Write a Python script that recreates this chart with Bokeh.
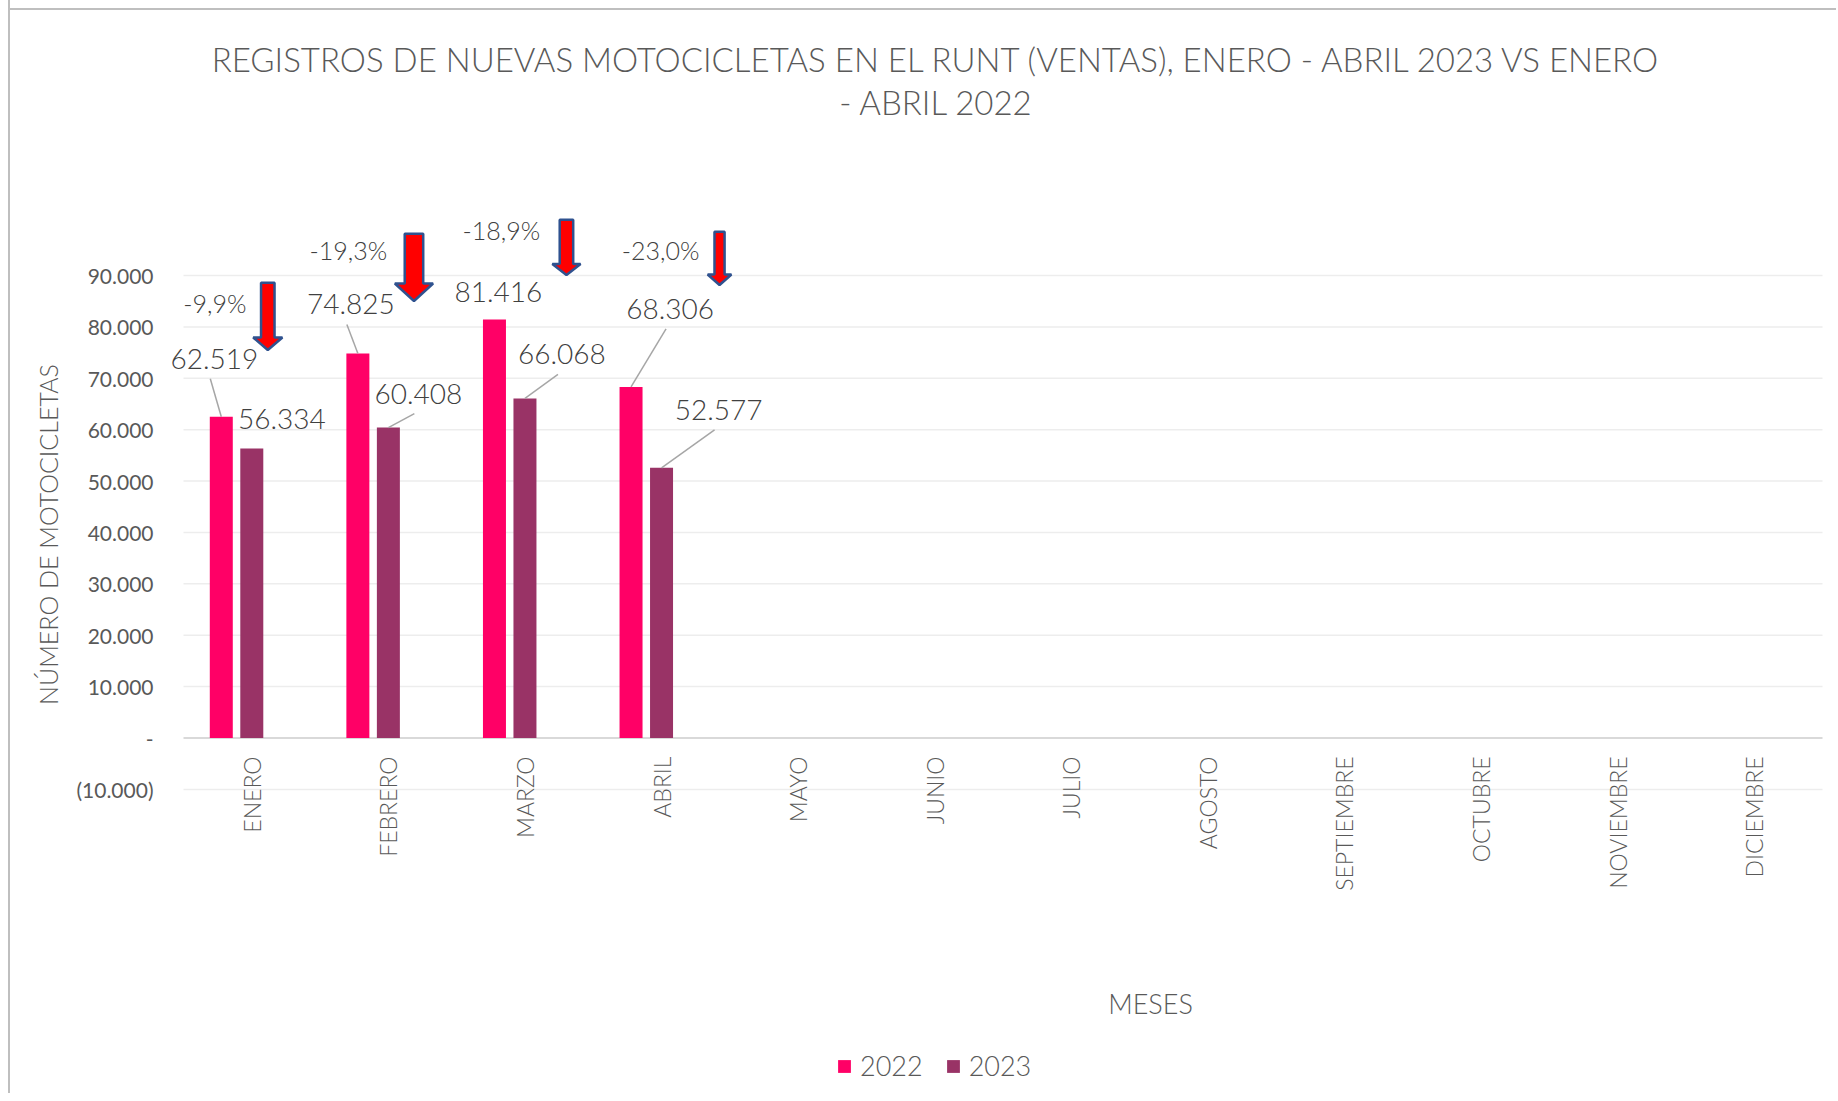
import math
from bokeh.plotting import figure
from bokeh.models import (Range1d, FixedTicker, Label, LabelSet, ColumnDataSource,
                          Legend, LegendItem)
from bokeh.core.properties import value
from bokeh.embed import file_html
from bokeh.resources import INLINE

# ---------------- data ----------------
months = ["ENERO", "FEBRERO", "MARZO", "ABRIL", "MAYO", "JUNIO", "JULIO",
          "AGOSTO", "SEPTIEMBRE", "OCTUBRE", "NOVIEMBRE", "DICIEMBRE"]
series_names = ["2022", "2023"]
sales_2022 = [62519, 74825, 81416, 68306]
sales_2023 = [56334, 60408, 66068, 52577]
y_ticks = [-10000, 0, 10000, 20000, 30000, 40000, 50000, 60000, 70000, 80000, 90000]
title_lines = ["REGISTROS DE NUEVAS MOTOCICLETAS EN EL RUNT (VENTAS), ENERO - ABRIL 2023 VS ENERO",
               "- ABRIL 2022"]
x_title = "MESES"
y_title = "NÚMERO DE MOTOCICLETAS"

# ---------------- layout (page pixels) ----------------
OX, OY = 10, -24                # canvas origin on the page
W, H = 1828, 1117
FL, FR, FT, FB = 163, 1838, -24, 1092   # plot frame on the page
GL, GR = 183, 1822                      # extent of the gridlines / category band
Y_ZERO_PX, PX_PER_10K = 737.5, 51.39
PXY = PX_PER_10K / 10000
PXX = (GR - GL) / len(months)
Y0 = -(FB - Y_ZERO_PX) / PXY
Y1 = (Y_ZERO_PX - FT) / PXY
X0 = -(GL - FL) / PXX
X1 = (FR - GL) / PXX


def dx(px):
    return (px - GL) / PXX


def dy(py):
    return (Y_ZERO_PX - py) / PXY


def page_x(x):
    return GL + x * PXX


def page_y(y):
    return Y_ZERO_PX - y * PXY


def thousands(v):
    return f"{v:,}".replace(",", ".")


def tick_label(t):
    if t == 0:
        return "-"
    if t < 0:
        return "(" + thousands(-t) + ")"
    return thousands(t)


C22, C23 = "#FF0066", "#993366"
TXT = "#595959"
LBL = "#404040"
FONT = "Lato"
LIGHT = "Lato Light"

BAR_W = 23 / PXX
OFFS = [-30.5 / PXX, 0.0]

p = figure(width=W, height=H, x_range=Range1d(X0, X1), y_range=Range1d(Y0, Y1),
           output_backend="svg", toolbar_location=None, x_axis_location=None, title=None,
           min_border_left=FL - OX, min_border_right=W - (FR - OX),
           min_border_top=FT - OY, min_border_bottom=(OY + H) - FB)
p.outline_line_color = None
p.background_fill_alpha = 0
p.border_fill_alpha = 0
p.styles = {"margin-left": "8px", "margin-top": f"{OY}px",
            "border-left": "2px solid #bfbfbf",
            "background": f"linear-gradient(#bfbfbf, #bfbfbf) 0px {8 - OY}px / 100% 2px no-repeat, #ffffff"}

# y axis
p.yaxis.ticker = FixedTicker(ticks=y_ticks)
p.yaxis.major_label_overrides = {t: tick_label(t) for t in y_ticks}
p.yaxis.axis_line_color = None
p.yaxis.major_tick_line_color = None
p.yaxis.minor_tick_line_color = None
p.yaxis.major_tick_out = 0
p.yaxis.major_label_standoff = 10
p.yaxis.major_label_text_font = FONT
p.yaxis.major_label_text_font_size = "21px"
p.yaxis.major_label_text_color = TXT
p.yaxis.axis_label = y_title
p.yaxis.axis_label_text_font = LIGHT
p.yaxis.axis_label_text_font_size = "25px"
p.yaxis.axis_label_text_font_style = "normal"
p.yaxis.axis_label_text_color = TXT
p.yaxis.axis_label_standoff = 10
p.xgrid.visible = False
p.ygrid.visible = False

# gridlines across the category band, zero line darker
grid_vals = [t for t in y_ticks if t != 0]
p.segment(x0=[0] * len(grid_vals), x1=[len(months)] * len(grid_vals), y0=grid_vals, y1=grid_vals,
          line_color="#ededed", line_width=1.5)
p.segment(x0=[0], x1=[len(months)], y0=[0], y1=[0], line_color="#d9d9d9", line_width=2)

# bars
renderers = []
for k, (vals, col) in enumerate([(sales_2022, C22), (sales_2023, C23)]):
    src = ColumnDataSource(dict(x=[i + 0.5 + OFFS[k] for i in range(len(vals))], top=vals))
    r = p.vbar(x="x", top="top", bottom=0, width=BAR_W, source=src,
               fill_color=col, line_color=None)
    renderers.append(r)

# data labels with leader lines
LABEL_OFF = [[(-7, -58), (-7, -49), (4, -28), (39, -78)],
             [(30, -29), (30, -34), (37, -44), (57, -58)]]
LEADER = [[True, True, False, True], [False, True, True, True]]
for k, vals in enumerate([sales_2022, sales_2023]):
    lx, ly, lt = [], [], []
    sx0, sy0, sx1, sy1 = [], [], [], []
    for i, v in enumerate(vals):
        bx = page_x(i + 0.5 + OFFS[k])
        by = page_y(v)
        ox, oy = LABEL_OFF[k][i]
        cx, cy = bx + ox, by + oy
        lx.append(dx(cx)); ly.append(dy(cy)); lt.append(thousands(v))
        if LEADER[k][i]:
            sx0.append(dx(cx - 4)); sy0.append(dy(cy + 20))
            sx1.append(dx(bx)); sy1.append(v)
    p.segment(x0=sx0, y0=sy0, x1=sx1, y1=sy1, line_color="#a6a6a6", line_width=1.5)
    p.text(x=lx, y=ly, text=lt, text_font=value(LIGHT), text_font_size="28px",
           text_color=LBL, text_align="center", text_baseline="middle")

# percent change labels and arrows
PCT_POS = [(-37, 302), (-40, 249), (-23.5, 229), (-1, 249)]
ARROWS = [(16, 281, 337, 352, 16, 33), (25.6, 232, 283, 303, 21, 42),
          (41.5, 218, 263.5, 277, 16, 32), (58, 230, 274, 287, 12.6, 27.5)]
px_, py_, pt_ = [], [], []
axs, ays = [], []
for i, (a, b) in enumerate(zip(sales_2022, sales_2023)):
    cc = page_x(i + 0.5)
    pct = (b - a) / a * 100
    px_.append(dx(cc + PCT_POS[i][0])); py_.append(dy(PCT_POS[i][1]))
    pt_.append(f"{pct:.1f}%".replace(".", ","))
    ox, top, hs, tip, sw, hw = ARROWS[i]
    cx = cc + ox
    lw = 2.5
    top += lw / 2; tip -= lw; sw -= lw; hw -= lw * 1.5
    pts = [(cx - sw / 2, top), (cx + sw / 2, top), (cx + sw / 2, hs), (cx + hw / 2, hs),
           (cx, tip), (cx - hw / 2, hs), (cx - sw / 2, hs)]
    axs.append([dx(q[0]) for q in pts]); ays.append([dy(q[1]) for q in pts])
p.patches(xs=axs, ys=ays, fill_color="#FF0000", line_color="#2F528F", line_width=2.5)
p.text(x=px_, y=py_, text=pt_, text_font=value(LIGHT), text_font_size="25px",
       text_color=LBL, text_align="center", text_baseline="middle")

# category labels (rotated, hanging below the zero line)
cat_src = ColumnDataSource(dict(x=[i + 0.5 for i in range(len(months))],
                                y=[dy(Y_ZERO_PX + 18.5)] * len(months), t=months))
p.add_layout(LabelSet(x="x", y="y", text="t", source=cat_src, angle=math.pi / 2,
                      text_align="right", text_baseline="middle", text_font=value(LIGHT),
                      text_font_size="23px", text_color=TXT))

# titles
p.add_layout(Label(x=dx(937), y=dy(58.6), text=title_lines[0], text_align="center",
                   text_baseline="middle", text_font=LIGHT, text_font_size="33px",
                   text_color=TXT))
p.add_layout(Label(x=dx(936), y=dy(101), text=title_lines[1], text_align="center",
                   text_baseline="middle", text_font=LIGHT, text_font_size="33px",
                   text_color=TXT))
p.add_layout(Label(x=dx(1150), y=dy(1003), text=x_title, text_align="center",
                   text_baseline="middle", text_font=LIGHT, text_font_size="27px",
                   text_color=TXT))

# legend near the bottom of the frame (fully inside it)
legend = Legend(items=[LegendItem(label=series_names[0], renderers=[renderers[0]]),
                       LegendItem(label=series_names[1], renderers=[renderers[1]])],
                orientation="horizontal", location=(836 - FL, FB - 1082),
                glyph_width=16, glyph_height=16, label_standoff=8, spacing=22,
                padding=0, margin=0, border_line_color=None, background_fill_alpha=0,
                label_text_font=LIGHT, label_text_font_size="27px", label_text_color=TXT)
p.add_layout(legend)

open("out.html", "w").write(file_html(p, INLINE))
